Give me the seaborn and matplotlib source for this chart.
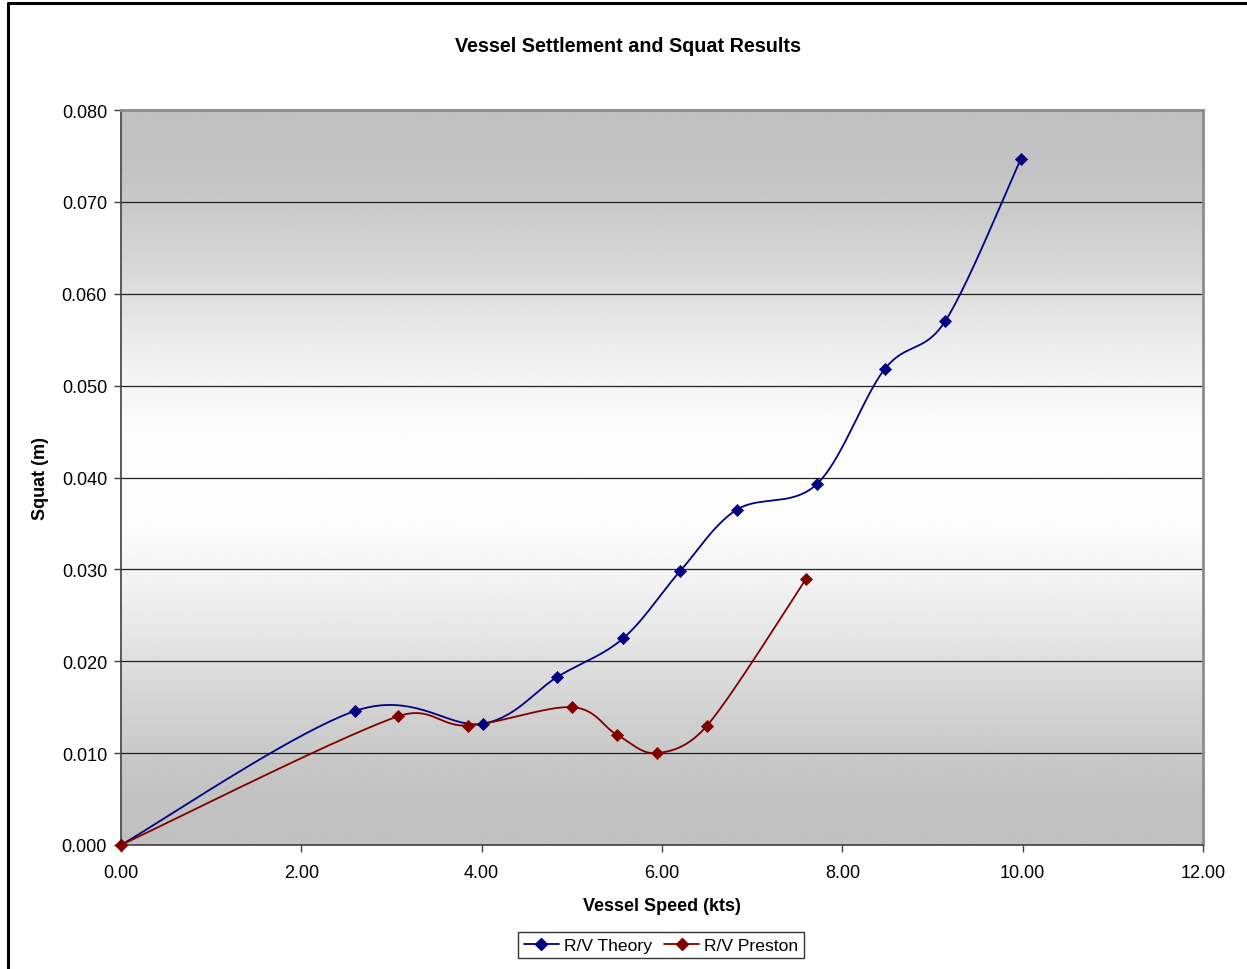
import numpy as np
import pandas as pd
import matplotlib
matplotlib.use('Agg')
import matplotlib.pyplot as plt
from matplotlib.lines import Line2D
import seaborn as sns

sns.set_theme(style="white")
plt.rcParams['font.family'] = ['Liberation Sans', 'DejaVu Sans']
plt.rcParams['text.color'] = 'black'
plt.rcParams['axes.labelcolor'] = 'black'
plt.rcParams['xtick.labelcolor'] = 'black'
plt.rcParams['ytick.labelcolor'] = 'black'

# data
theory_speed = [0.0, 2.60, 4.01, 4.84, 5.57, 6.20, 6.83, 7.72, 8.47, 9.14, 9.98]
theory_squat = [0.0, 0.0146, 0.0132, 0.0183, 0.0225, 0.0298, 0.0365, 0.0393, 0.0518, 0.0570, 0.0747]
preston_speed = [0.0, 3.07, 3.85, 5.00, 5.50, 5.94, 6.50, 7.60]
preston_squat = [0.0, 0.0140, 0.0130, 0.0150, 0.0120, 0.0100, 0.0130, 0.0290]

x_ticks = np.arange(0, 12.01, 2)
y_ticks = np.arange(0, 0.0801, 0.01)

# approx pixels per data unit, so the smoothing behaves like excel's (done in screen space)
SX, SY = 90.17, 9187.5


def smooth(xs, ys, n=40):
    # excel-ish "smoothed line": bezier segments, tangent length capped by segment length
    p = np.column_stack([np.asarray(xs) * SX, np.asarray(ys) * SY])
    pts = np.vstack([p[0], p, p[-1]])
    out = []
    t = np.linspace(0, 1, n)[:, None]
    for i in range(1, len(pts) - 2):
        p0, p1, p2, p3 = pts[i - 1], pts[i], pts[i + 1], pts[i + 2]
        d12 = np.linalg.norm(p2 - p1)
        v1 = (p2 - p0) / 6
        v2 = (p3 - p1) / 6
        n1, n2 = np.linalg.norm(v1), np.linalg.norm(v2)
        if n1 > d12 / 2:
            v1 = v1 * (d12 / 2) / n1
        if n2 > d12 / 2:
            v2 = v2 * (d12 / 2) / n2
        c1 = p1 + v1
        c2 = p2 - v2
        seg = ((1 - t) ** 3) * p1 + 3 * ((1 - t) ** 2) * t * c1 + 3 * (1 - t) * t ** 2 * c2 + t ** 3 * p2
        out.append(seg if i == 1 else seg[1:])
    out = np.vstack(out)
    return pd.DataFrame({"x": out[:, 0] / SX, "y": out[:, 1] / SY})


fig = plt.figure(figsize=(12.47, 9.70), dpi=100)
ax = fig.add_axes([121 / 1247, 1 - 846 / 970, (1203 - 121) / 1247, (846 - 111) / 970])

# gradient background: gray at top/bottom, white in middle
tt = np.linspace(0, 1, 400)
f = 0.5 - 0.5 * np.cos(2 * np.pi * tt)
shade = (0xC0 + (0xFE - 0xC0) * f) / 255.0
img = np.repeat(shade[:, None], 2, axis=1)
ax.imshow(img, cmap='gray', vmin=0, vmax=1, extent=[0, 12, 0, 0.08],
          aspect='auto', origin='lower', zorder=0, interpolation='bilinear')

for yv in y_ticks[1:-1]:
    ax.axhline(yv, color='#202020', lw=0.9, zorder=1)

series = [
    ("R/V Theory", theory_speed, theory_squat, '#000080'),
    ("R/V Preston", preston_speed, preston_squat, '#800000'),
]
for name, xs, ys, col in series:
    sm = smooth(xs, ys)
    sns.lineplot(data=sm, x="x", y="y", sort=False, estimator=None, color=col,
                 lw=1.3, ax=ax, zorder=3)
    pts = pd.DataFrame({"x": xs, "y": ys})
    sns.scatterplot(data=pts, x="x", y="y", marker='D', s=38, color=col,
                    edgecolor=col, linewidth=0.5, ax=ax, zorder=4, clip_on=False)

ax.set_xlim(0, 12)
ax.set_ylim(0, 0.08)
ax.set_xticks(x_ticks)
ax.set_yticks(y_ticks)
ax.set_xticklabels([f"{v:.2f}" for v in x_ticks], fontsize=13)
ax.set_yticklabels([f"{v:.3f}" for v in y_ticks], fontsize=13)
ax.tick_params(axis='both', direction='out', length=5, width=1, color='#404040',
               labelcolor='black', bottom=True, left=True, pad=5)
ax.tick_params(axis='x', pad=9)

for side in ['left', 'bottom']:
    ax.spines[side].set_color('#404040')
    ax.spines[side].set_linewidth(1.2)
for side in ['top', 'right']:
    ax.spines[side].set_color('#8c8c8c')
    ax.spines[side].set_linewidth(2)

ax.set_xlabel("Vessel Speed (kts)", fontsize=13, fontweight='bold', labelpad=11)
ax.set_ylabel("Squat (m)", fontsize=13, fontweight='bold', labelpad=9)
fig.text(628 / 1247, 1 - 47 / 970, "Vessel Settlement and Squat Results",
         ha='center', va='center', fontsize=14.2, fontweight='bold', color='black')

handles = [Line2D([0], [0], color=c, lw=1.3, marker='D', markersize=6,
                  markerfacecolor=c, markeredgecolor=c) for _, _, _, c in series]
leg = fig.legend(handles, [s[0] for s in series], loc='center',
                 bbox_to_anchor=(661 / 1247, 1 - 946 / 970), ncol=2,
                 fontsize=12.6, frameon=True, fancybox=False, handlelength=2.0,
                 handletextpad=0.3, columnspacing=0.7, borderpad=0.3,
                 borderaxespad=0)
leg.get_frame().set_edgecolor('black')
leg.get_frame().set_linewidth(1)

# outer chart border (left and top visible)
fig.add_artist(Line2D([8 / 1247, 8 / 1247], [0, 1 - 4 / 970], color='black', lw=2.2,
                      transform=fig.transFigure))
fig.add_artist(Line2D([8 / 1247, 1], [1 - 4 / 970, 1 - 4 / 970], color='black', lw=2.2,
                      transform=fig.transFigure))

fig.savefig("out.png", dpi=100)
